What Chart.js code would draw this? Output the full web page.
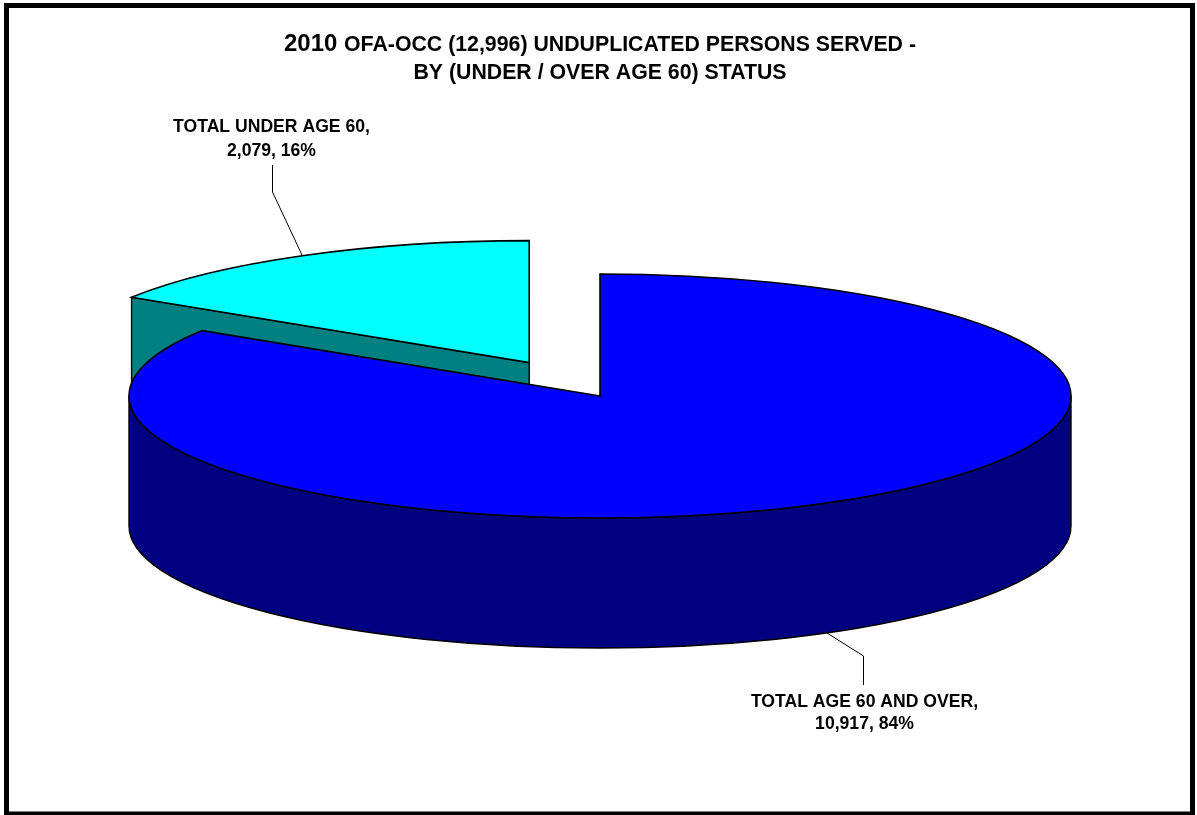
<!DOCTYPE html>
<html>
<head>
<meta charset="utf-8">
<title>2010 OFA-OCC unduplicated persons served</title>
<script src="https://cdn.jsdelivr.net/npm/chart.js@4/dist/chart.umd.min.js"></script>
<style>
  html, body { margin: 0; padding: 0; background: #fff; overflow: hidden; }
  canvas { display: block; }
</style>
</head>
<body>
<canvas id="chart" width="1197" height="815"></canvas>
<script>
// Chart values
const categories = ['TOTAL AGE 60 AND OVER', 'TOTAL UNDER AGE 60'];
const persons = [10917, 2079];
const percents = ['84%', '16%'];
const titleLead = '2010';
const titleLine1 = 'OFA-OCC (12,996) UNDUPLICATED PERSONS SERVED -';
const titleLine2 = 'BY (UNDER / OVER AGE 60) STATUS';

// Slice colours
const topColors = ['#0000FF', '#00FFFF'];
const wallColors = ['#000080', '#008080'];

// Projection of the flat pie onto a tilted disc
const RX = 471, RY = 122, DEPTH = 130;
const PIE_RADIUS = 343;
const EXPLODE = 107;
const FONT = '"Liberation Sans", Arial, sans-serif';

// Leader-line elbow and end, label anchor and line gap for each slice
const labelLayout = [
  { elbow: [863, 656], end: [863, 685], text: [864.5, 707], gap: 21.5, lift: DEPTH },
  { elbow: [272, 192], end: [272, 165], text: [271.5, 132], gap: 23.5, lift: 0 }
];

// Geometry of a slice in screen space, taken from the library's arc element.
// The arc element moves an exploded slice by a quarter of its offset option.
function sliceGeometry(arc) {
  const { x, y, startAngle, endAngle, circumference } = arc.getProps(
    ['x', 'y', 'startAngle', 'endAngle', 'circumference']);
  const mid = (startAngle + endAngle) / 2;
  const off = (arc.options.offset || 0) / 4;
  const sx = RX / PIE_RADIUS, sy = RY / PIE_RADIUS;
  return {
    cx: x + Math.cos(mid) * off * sx,
    cy: y + Math.sin(mid) * off * sy,
    start: mid - circumference / 2, end: mid + circumference / 2, mid
  };
}

const rim = (g, a) => [g.cx + RX * Math.cos(a), g.cy + RY * Math.sin(a)];

// Traces the top face of a slice
function traceTop(ctx, g) {
  ctx.beginPath();
  ctx.moveTo(g.cx, g.cy);
  ctx.ellipse(g.cx, g.cy, RX, RY, 0, g.start, g.end);
  ctx.closePath();
}

const tilted = {
  id: 'tilted',
  // An exploded arc paints itself a little larger and narrower than its
  // stored radius and angles; undo that so it stays a true slice of the disc.
  afterDatasetsUpdate(chart) {
    chart.getDatasetMeta(0).data.forEach(arc => {
      const off = (arc.options.offset || 0) / 4;
      if (!off) return;
      const grow = off * (1 - Math.sin(Math.min(Math.PI, arc.circumference)));
      const inset = (grow / Math.PI) / arc.outerRadius / 2;
      arc.outerRadius -= grow;
      arc.startAngle -= inset;
      arc.endAngle += inset;
    });
  },
  // Side walls go underneath the slice tops
  beforeDatasetsDraw(chart) {
    const ctx = chart.ctx;
    const arcs = chart.getDatasetMeta(0).data;
    ctx.save();
    ctx.lineWidth = 1.4;
    ctx.strokeStyle = '#000';
    ctx.lineJoin = 'round';
    // Back slice first, so the front slice's wall overlaps it
    [1, 0].forEach(i => {
      const g = sliceGeometry(arcs[i]);
      ctx.fillStyle = wallColors[i];
      // Radial cut face, when it turns towards the viewer
      if (Math.cos(g.start) < -1e-6) {
        const [px, py] = rim(g, g.start);
        ctx.beginPath();
        ctx.moveTo(g.cx, g.cy);
        ctx.lineTo(px, py);
        ctx.lineTo(px, py + DEPTH);
        ctx.lineTo(g.cx, g.cy + DEPTH);
        ctx.closePath();
        ctx.fill();
        ctx.stroke();
      }
      // Outer wall: only the part of the rim on the near side of the disc
      const from = Math.max(g.start, 0), to = Math.min(g.end, Math.PI);
      if (to > from) {
        ctx.beginPath();
        ctx.ellipse(g.cx, g.cy, RX, RY, 0, from, to);
        ctx.ellipse(g.cx, g.cy + DEPTH, RX, RY, 0, to, from, true);
        ctx.closePath();
        ctx.fill();
        ctx.stroke();
      }
    });
    ctx.restore();
    // The library paints the round pie through this squash
    const c = arcs[0];
    ctx.save();
    ctx.translate(c.x, c.y);
    ctx.scale(RX / PIE_RADIUS, RY / PIE_RADIUS);
    ctx.translate(-c.x, -c.y);
  },
  afterDatasetsDraw(chart) {
    const ctx = chart.ctx;
    ctx.restore();
    const arcs = chart.getDatasetMeta(0).data;
    ctx.save();
    ctx.strokeStyle = '#000';
    ctx.lineWidth = 1.6;
    ctx.lineJoin = 'miter';
    arcs.forEach(arc => { traceTop(ctx, sliceGeometry(arc)); ctx.stroke(); });

    // Leader lines and data labels
    ctx.lineWidth = 1;
    ctx.fillStyle = '#000';
    ctx.textAlign = 'center';
    ctx.textBaseline = 'alphabetic';
    ctx.font = 'bold 17.6px ' + FONT;
    arcs.forEach((arc, i) => {
      const g = sliceGeometry(arc);
      const [rx, ry] = rim(g, g.mid);
      const l = labelLayout[i];
      ctx.beginPath();
      ctx.moveTo(rx, ry + l.lift);
      ctx.lineTo(l.elbow[0] + 0.5, l.elbow[1]);
      ctx.lineTo(l.end[0] + 0.5, l.end[1]);
      ctx.stroke();
      ctx.fillText(categories[i] + ',', l.text[0], l.text[1]);
      ctx.fillText(persons[i].toLocaleString('en-US') + ', ' + percents[i], l.text[0], l.text[1] + l.gap);
    });

    // Two-size title, centred as one run
    const y1 = 51, y2 = 79, mx = 600;
    ctx.textAlign = 'left';
    const bigFont = 'bold 24px ' + FONT, smallFont = 'bold 21.3px ' + FONT;
    ctx.font = bigFont;
    const leadW = ctx.measureText(titleLead + ' ').width;
    ctx.font = smallFont;
    const restW = ctx.measureText(titleLine1).width;
    const x = mx - (leadW + restW) / 2;
    ctx.font = bigFont;
    ctx.fillText(titleLead, x, y1);
    ctx.font = smallFont;
    ctx.fillText(titleLine1, x + leadW, y1);
    ctx.textAlign = 'center';
    ctx.fillText(titleLine2, mx, y2);

    // Outer frame
    ctx.strokeStyle = '#000';
    ctx.lineWidth = 5;
    ctx.strokeRect(6.5, 5.5, 1186, 808.5);
    ctx.restore();
  }
};

new Chart(document.getElementById('chart'), {
  type: 'pie',
  data: {
    labels: categories,
    datasets: [{
      data: persons,
      backgroundColor: topColors,
      borderWidth: 0,
      offset: [0, EXPLODE * 4]
    }]
  },
  plugins: [tilted],
  options: {
    responsive: false,
    animation: false,
    radius: PIE_RADIUS,
    layout: { padding: { left: 3, bottom: 23 } },
    plugins: { legend: { display: false }, tooltip: { enabled: false } }
  }
});
</script>
</body>
</html>
